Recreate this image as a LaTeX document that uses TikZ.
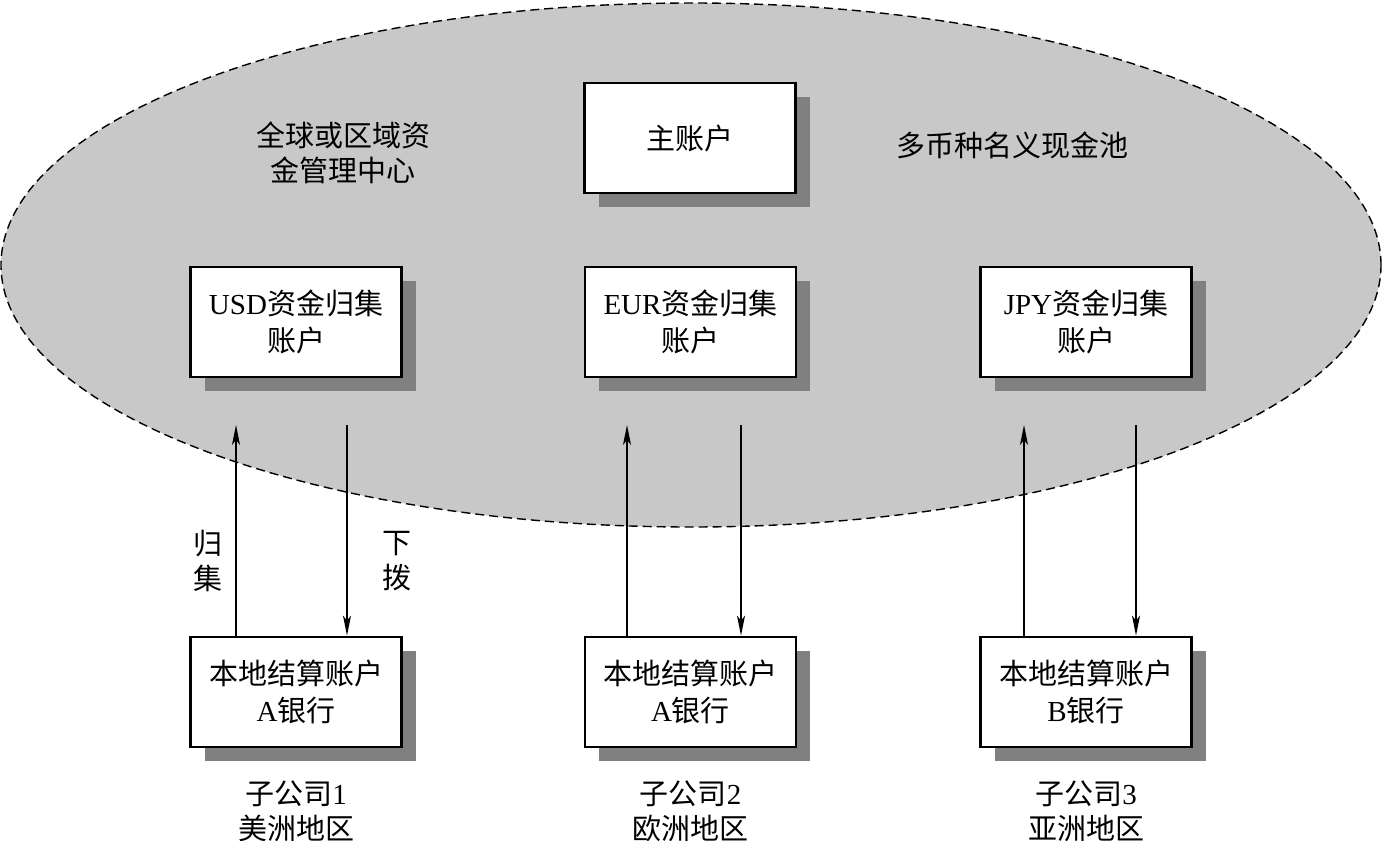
\documentclass[tikz,border=0pt]{standalone}
\usepackage{fontspec}
\setmainfont{Liberation Serif}
\newfontfamily\cjk{Noto Sans CJK SC}
\usetikzlibrary{shadows,arrows.meta}
\definecolor{ellgray}{HTML}{C8C8C8}
\definecolor{shadowgray}{HTML}{808080}
\newcommand\zh[1]{{\cjk #1}}
\begin{document}
\begin{tikzpicture}[x=1pt,y=-1pt,
  acct/.style={draw, line width=2.8pt, fill=white, minimum width=211pt, minimum height=110pt,
    align=center, inner sep=2pt, font=\fontsize{29}{37}\selectfont,
    drop shadow={shadow xshift=14pt, shadow yshift=-14pt, fill=shadowgray, opacity=1}},
  lbl/.style={align=center, inner sep=0pt, font=\fontsize{29}{35}\selectfont},
  flow/.style={line width=1.3pt, -{Stealth[length=20pt,width=8pt,inset=5pt]}}]
\useasboundingbox (0,0) rectangle (1383,840);
\draw[fill=ellgray, line width=1.4pt, dash pattern=on 9pt off 5pt] (691,265) ellipse [x radius=690pt, y radius=262pt];

\node[acct] (main) at (690,138) {\zh{主账户}};
\node[acct] (usd) at (296,322) {USD\zh{资金归集}\\\zh{账户}};
\node[acct] (eur) at (690.5,322) {EUR\zh{资金归集}\\\zh{账户}};
\node[acct] (jpy) at (1086,322) {JPY\zh{资金归集}\\\zh{账户}};

\node[acct] (l1) at (296,692) {\zh{本地结算账户}\\A\zh{银行}};
\node[acct] (l2) at (690.5,692) {\zh{本地结算账户}\\A\zh{银行}};
\node[acct] (l3) at (1086,692) {\zh{本地结算账户}\\B\zh{银行}};

\node[lbl] (center) at (343,153) {\zh{全球或区域资}\\\zh{金管理中心}};
\node[lbl] (pool) at (1012,145) {\zh{多币种名义现金池}};

\node[lbl] (s1) at (296,811) {\zh{子公司}1\\\zh{美洲地区}};
\node[lbl] (s2) at (690.5,811) {\zh{子公司}2\\\zh{欧洲地区}};
\node[lbl] (s3) at (1086,811) {\zh{子公司}3\\\zh{亚洲地区}};

\node[lbl] (gj) at (208,561) {\zh{归}\\\zh{集}};
\node[lbl] (xb) at (397,561) {\zh{下}\\\zh{拨}};

\coordinate (u1) at (236,425);
\coordinate (d1) at (347,425);
\coordinate (u2) at (627,425);
\coordinate (d2) at (741,425);
\coordinate (u3) at (1024,425);
\coordinate (d3) at (1136,425);

\draw[flow] (l1.north -| u1) -- (u1);
\draw[flow] (d1) -- (l1.north -| d1);
\draw[flow] (l2.north -| u2) -- (u2);
\draw[flow] (d2) -- (l2.north -| d2);
\draw[flow] (l3.north -| u3) -- (u3);
\draw[flow] (d3) -- (l3.north -| d3);
\end{tikzpicture}
\end{document}
